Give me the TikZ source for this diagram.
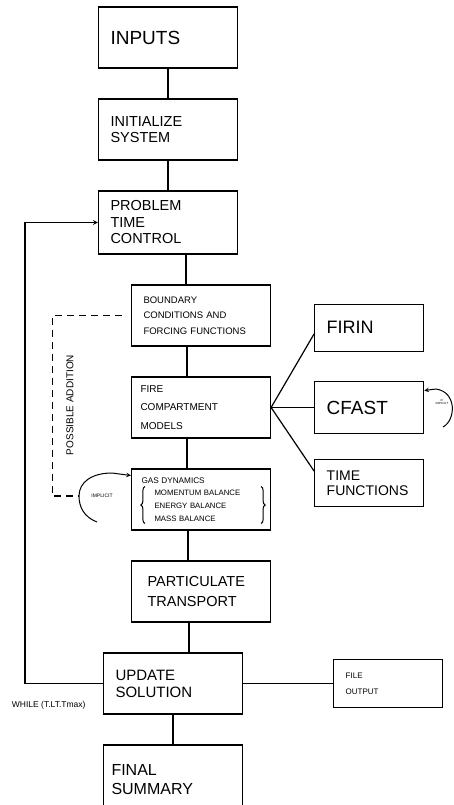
\documentclass[tikz,border=0pt]{standalone}
\usepackage{fontspec}
\setmainfont{Liberation Sans}
\usetikzlibrary{positioning,decorations.pathreplacing}
\usepackage{amsmath}

\newcommand{\fsz}[2]{\fontsize{#1}{#2}\selectfont}

\begin{document}
\begin{tikzpicture}[x=1pt,y=1pt,node distance=29.8pt,line width=1.2pt,
    stage/.style={rectangle,draw,minimum width=139pt,minimum height=61pt,text width=115pt,inner xsep=12pt,align=left},
    side/.style={stage,minimum width=109pt,text width=85pt},
    curly/.style={decorate,decoration={brace,amplitude=4pt},line width=1pt}]
    \useasboundingbox (0,0) rectangle (454,-805);
    \node[stage,font=\fsz{19}{22}] (inp) at (168,-37.5) {INPUTS};
    \node[stage,font=\fsz{14.5}{16},below=of inp] (init) {INITIALIZE\\SYSTEM};
    \node[stage,font=\fsz{14.5}{16.5},minimum height=63pt,below=of init] (ptc) {PROBLEM\\TIME\\CONTROL};
    \node[stage,font=\fsz{9.5}{15.5},below=of ptc,xshift=33pt] (bnd) {BOUNDARY\\CONDITIONS AND\\FORCING FUNCTIONS};
    \node[stage,font=\fsz{10}{18.5},inner xsep=9pt,text width=121pt,below=of bnd] (fire) {FIRE\\COMPARTMENT\\MODELS};
    \node[stage,font=\fsz{7.8}{12.8},inner xsep=10pt,text width=119pt,below=of fire] (gas) {{\fsz{8.2}{12.8}GAS DYNAMICS}\\\hspace*{13pt}MOMENTUM BALANCE\\\hspace*{13pt}ENERGY BALANCE\\\hspace*{13pt}MASS BALANCE};
    \node[stage,font=\fsz{14.5}{20},inner xsep=16pt,text width=107pt,below=of gas] (part) {PARTICULATE\\TRANSPORT};
    \node[stage,font=\fsz{15}{17},below=of part,xshift=-28pt] (upd) {UPDATE\\SOLUTION};
    \node[stage,font=\fsz{16}{19},inner xsep=8pt,text width=123pt,minimum height=70pt,below=of upd] (fin) {FINAL\\SUMMARY};
    \node[side,font=\fsz{19}{22},minimum height=52pt,right=43pt of fire] (cfast) {CFAST};
    \node[side,font=\fsz{18}{22},minimum height=47pt,above=29pt of cfast] (firin) {FIRIN};
    \node[side,font=\fsz{14}{15},minimum height=47pt,below=25pt of cfast] (tf) {TIME\\FUNCTIONS};
    \node[side,font=\fsz{8}{16},minimum height=48pt,right=90pt of upd] (file) {FILE\\OUTPUT};
    \draw[curly] ([xshift=14pt,yshift=-24pt]gas.west) -- ([xshift=14pt,yshift=13pt]gas.west);
    \draw[curly] ([xshift=-10pt,yshift=13pt]gas.east) -- ([xshift=-10pt,yshift=-24pt]gas.east);
    \draw (inp) -- (init);
    \draw (init) -- (ptc);
    \draw ([xshift=-15pt]bnd.north) -- ([xshift=-15pt]bnd.north |- ptc.south);
    \draw ([xshift=-14pt]bnd.south) -- ([xshift=-14pt]fire.north);
    \draw ([xshift=-14pt]fire.south) -- ([xshift=-14pt]gas.north);
    \draw ([xshift=-13pt]gas.south) -- ([xshift=-13pt]part.north);
    \draw ([xshift=-12pt]part.south) -- ([xshift=-12pt]part.south |- upd.north);
    \draw (upd) -- (fin);
    \draw (fire.east) -- ([yshift=18pt]firin.south west);
    \draw (fire.east) -- (cfast.west);
    \draw (fire.east) -- ([yshift=-12pt]tf.north west);
    \draw (upd) -- (file);
    \draw[->,>=stealth] (upd.west) -- ++(-78,0) |- (ptc.west);
    \node[font=\fsz{8.5}{9},anchor=west] (wh) at (8,-705) {WHILE (T.LT.Tmax)};
    \coordinate (arcl) at (79,-496);
    \coordinate (impb) at (97,-522);
    \node[font=\fsz{5}{6}] (imp) at (102,-496) {IMPLICIT};
    \draw[dash pattern=on 7pt off 5pt,shorten <=9pt] (bnd.west) -- ++(-78.5,0) |- (arcl);
    \draw[->,>=stealth,line width=1pt] (impb) .. controls (84,-517) and (79,-507) .. (arcl) .. controls (79,-482) and (92,-473) .. (112,-473) -- ([yshift=24pt]gas.west);
    \node[rotate=90,font=\fsz{10}{12}] (pa) at (70,-405) {POSSIBLE ADDITION};
    \coordinate (cfb) at (443,-427);
    \draw[->,>=stealth,line width=1pt] (cfb) .. controls (456,-420) and (457,-392) .. (436,-389) -- ([yshift=17pt]cfast.east);
    \node[font=\fsz{3}{3.5},align=center] (cfn) at (442,-402) {IF\\IMPLICIT};
\end{tikzpicture}
\end{document}
